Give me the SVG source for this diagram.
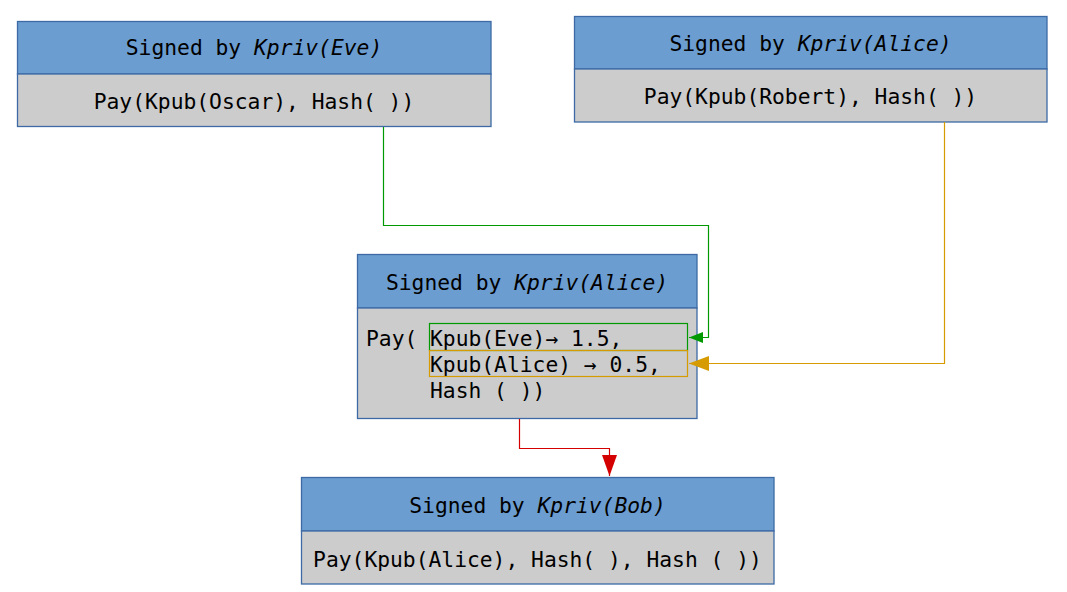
<svg xmlns="http://www.w3.org/2000/svg" width="1067" height="592" viewBox="0 0 1067 592">
<style>
.hd{fill:#6c9dd0;stroke:#3d6aa5;stroke-width:1.3}
.bd{fill:#cccccc;stroke:#3d6aa5;stroke-width:1.3}
text{font-family:"DejaVu Sans Mono","Liberation Mono",monospace;font-size:21.3px;fill:#000}
.c{text-anchor:middle}
.i{font-style:italic}
.ln{fill:none;stroke-width:1.2}
</style>
<defs>
<marker id="ag" markerUnits="userSpaceOnUse" markerWidth="14" markerHeight="11" refX="14" refY="5.5" orient="auto"><path d="M0,0L14,5.5L0,11Z" fill="#009900"/></marker>
<marker id="ao" markerUnits="userSpaceOnUse" markerWidth="20" markerHeight="15" refX="20" refY="7.5" orient="auto"><path d="M0,0L20,7.5L0,15Z" fill="#d69b00"/></marker>
<marker id="ar" markerUnits="userSpaceOnUse" markerWidth="21" markerHeight="15" refX="21" refY="7.5" orient="auto"><path d="M0,0L21,7.5L0,15Z" fill="#d40000"/></marker>
</defs>
<g id="node-eve">
<rect class="hd" x="17.5" y="21.5" width="473.5" height="52.5"/>
<rect class="bd" x="17.5" y="74" width="473.5" height="52.5"/>
<text class="c" x="254" y="55">Signed by <tspan class="i">Kpriv(Eve)</tspan></text>
<text class="c" x="254" y="109">Pay(Kpub(Oscar), Hash( ))</text>
</g>
<g id="node-alice-top">
<rect class="hd" x="574.5" y="16.5" width="472.5" height="52.5"/>
<rect class="bd" x="574.5" y="69" width="472.5" height="53"/>
<text class="c" x="810.5" y="51">Signed by <tspan class="i">Kpriv(Alice)</tspan></text>
<text class="c" x="810.5" y="104">Pay(Kpub(Robert), Hash( ))</text>
</g>
<g id="node-alice-mid">
<rect class="hd" x="357.5" y="254.5" width="339.5" height="53.5"/>
<rect class="bd" x="357.5" y="308" width="339.5" height="110.5"/>
<text class="c" x="527" y="290">Signed by <tspan class="i">Kpriv(Alice)</tspan></text>
<text x="366" y="346">Pay(</text>
<text x="430" y="346">Kpub(Eve)→ 1.5,</text>
<text x="430" y="372">Kpub(Alice) → 0.5,</text>
<text x="430" y="398">Hash ( ))</text>
<rect x="429.5" y="323.5" width="258" height="27" fill="none" stroke="#009900" stroke-width="1.2"/>
<rect x="429.5" y="350.5" width="258" height="26" fill="none" stroke="#d69b00" stroke-width="1.2"/>
</g>
<g id="node-bob">
<rect class="hd" x="301.5" y="477.5" width="472.5" height="53.5"/>
<rect class="bd" x="301.5" y="531" width="472.5" height="53"/>
<text class="c" x="537.5" y="513">Signed by <tspan class="i">Kpriv(Bob)</tspan></text>
<text class="c" x="537.5" y="567">Pay(Kpub(Alice), Hash( ), Hash ( ))</text>
</g>
<g id="connectors">
<path class="ln" stroke="#009900" d="M383.5,127V225.5H708.5V337.5H689" marker-end="url(#ag)"/>
<path class="ln" stroke="#d69b00" d="M944.5,122V363.5H689" marker-end="url(#ao)"/>
<path class="ln" stroke="#d40000" d="M519.5,419V448.5H609.5V476" marker-end="url(#ar)"/>
</g>
</svg>
